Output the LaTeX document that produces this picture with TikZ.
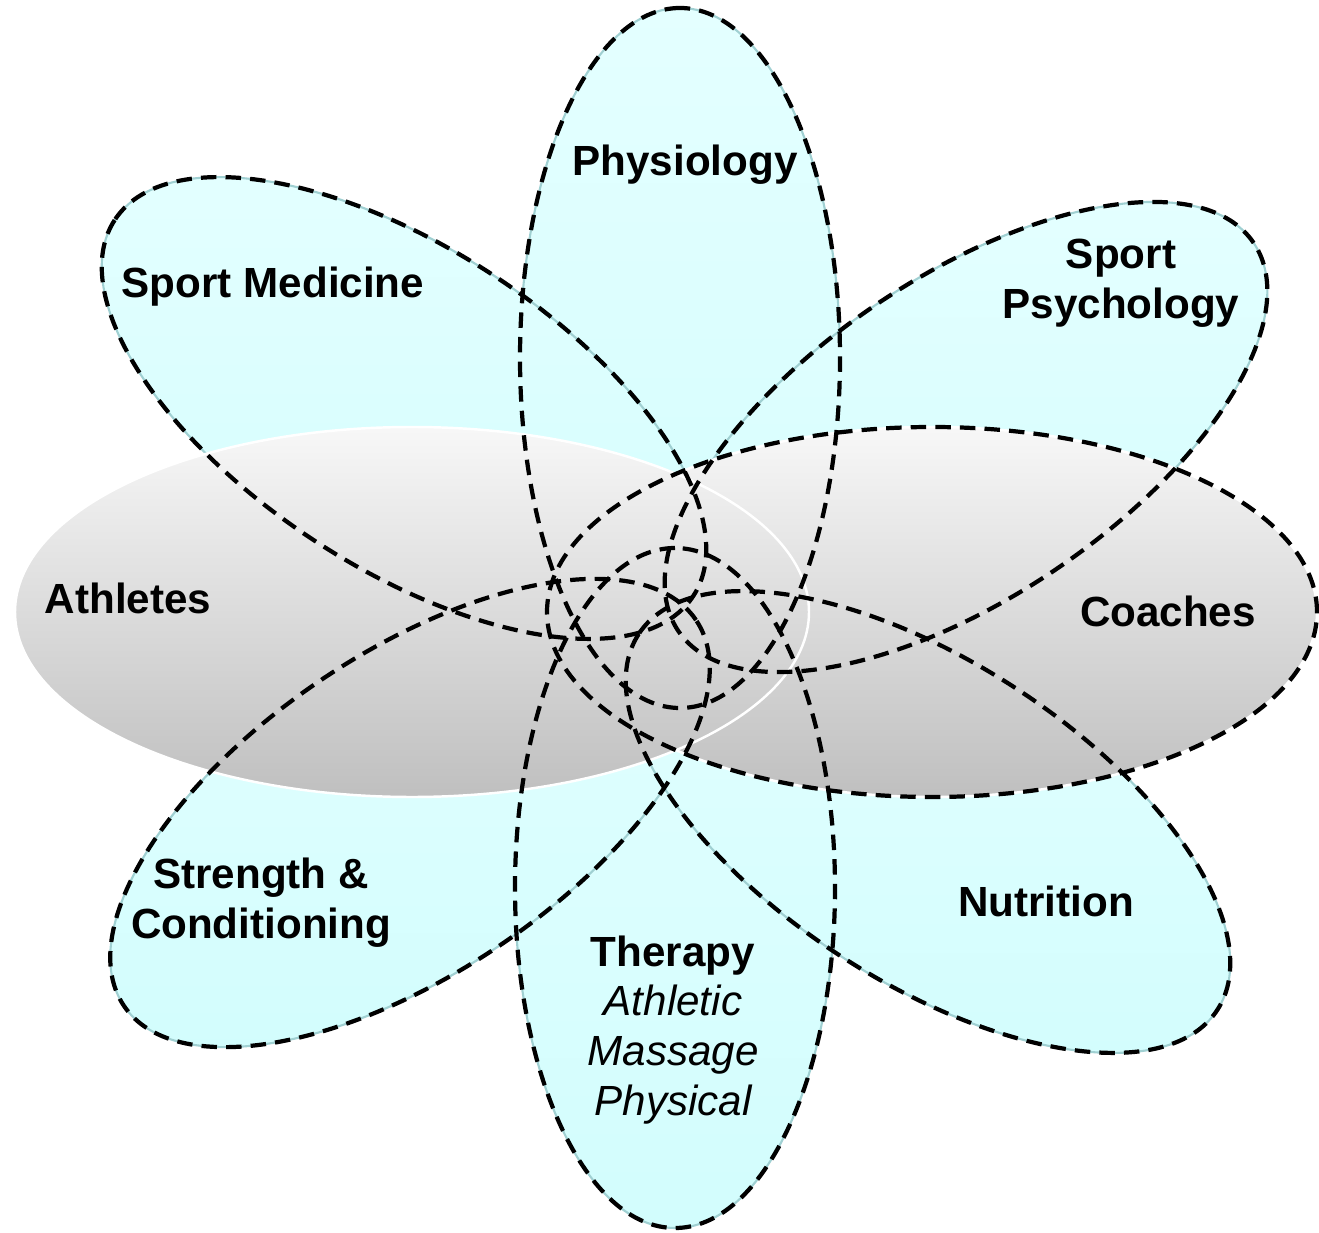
\documentclass[tikz,border=0pt]{standalone}
\usepackage{fontspec}
\setmainfont{Liberation Sans}
\usepackage{tikz}
\usetikzlibrary{calc}
\definecolor{petal}{RGB}{228,255,255}
\definecolor{petaldeep}{RGB}{210,253,253}
\definecolor{petalrim}{RGB}{160,208,210}
\definecolor{gr}{gray}{0.97}
\definecolor{grd}{gray}{0.75}

% centre x / centre y / angle / half length of each petal
\def\petallist{6.80/8.74/90/3.50, 6.75/3.44/90/3.40, 4.04/8.24/147/3.45,
  9.66/7.95/34/3.47, 4.10/4.19/34/3.45, 9.28/4.10/147/3.45}

\tikzset{
  petalfill/.style={top color=petal, bottom color=petaldeep, draw=petalrim, line width=0.6pt},
  greyfill/.style={top color=gr, bottom color=grd, draw=white, line width=0.7pt},
  dashline/.style={draw=black, line width=1.2pt, dash pattern=on 4.4pt off 2.6pt},
  lbl/.style={font=\fontsize{12}{14.2}\selectfont\bfseries, align=center, inner sep=0pt}
}

\begin{document}
\begin{tikzpicture}
\useasboundingbox (0,0) rectangle (13.19,12.32);

% petals, filled first
\foreach \x/\y/\a/\r in \petallist{
  \shade[petalfill, rotate around={\a:(\x,\y)}] (\x,\y) ellipse [x radius=\r, y radius=1.6];
}

% coaches and athletes on top of the petals
\shade[greyfill] (9.32,6.20) ellipse [x radius=3.85, y radius=1.85];
\shade[greyfill] (4.12,6.20) ellipse [x radius=3.97, y radius=1.85];

% dashed outlines over everything
\foreach \x/\y/\a/\r in \petallist{
  \draw[dashline, rotate around={\a:(\x,\y)}] (\x,\y) ellipse [x radius=\r, y radius=1.6];
}
\draw[dashline] (9.32,6.20) ellipse [x radius=3.85, y radius=1.85];

% labels
\node[lbl] (physiology) at (6.85,10.67) {Physiology};
\node[lbl] (sportmed) at (2.73,9.45) {Sport Medicine};
\node[lbl] (sportpsy) at (11.21,9.49) {Sport\\Psychology};
\node[lbl] (athletes) at (1.28,6.34) {Athletes};
\node[lbl] (coaches) at (11.68,6.21) {Coaches};
\node[lbl] (strength) at (2.61,3.29) {Strength \&\\Conditioning};
\node[lbl] (nutrition) at (10.46,3.31) {Nutrition};
\node[lbl] (therapy) at (6.73,2.02) {Therapy\\\mdseries\itshape Athletic\\\mdseries\itshape Massage\\\mdseries\itshape Physical};
\end{tikzpicture}
\end{document}
